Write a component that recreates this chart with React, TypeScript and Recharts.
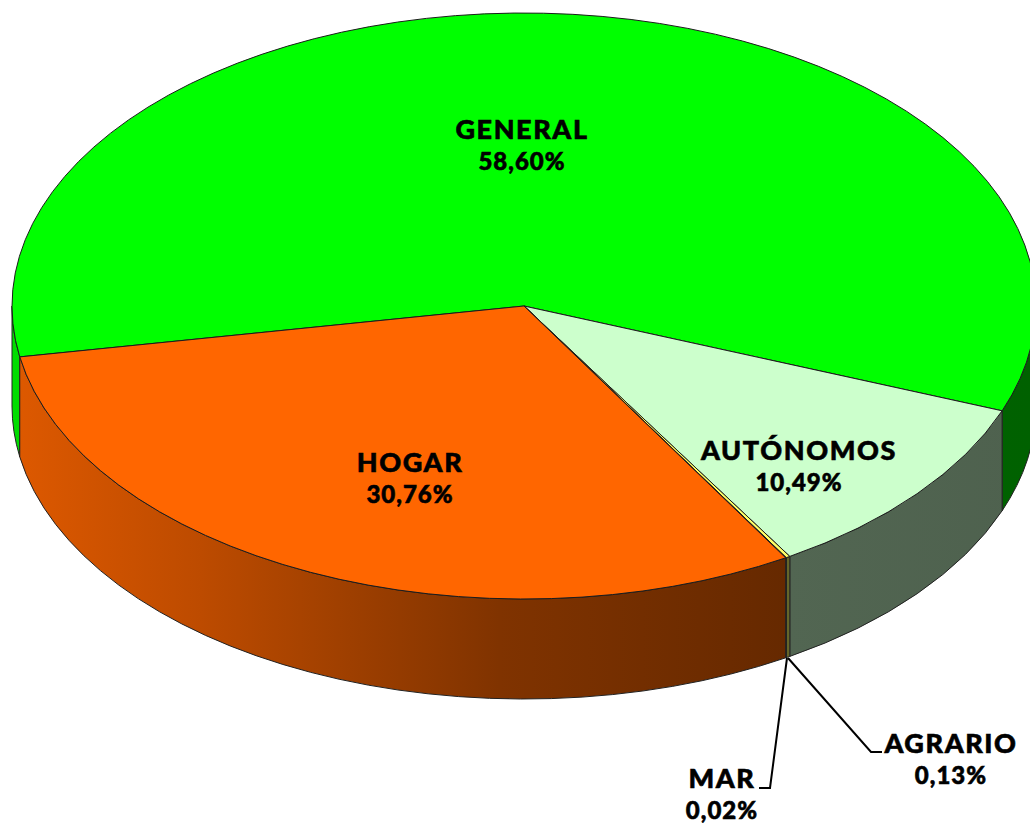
import React from 'react';
import { PieChart, Pie } from 'recharts';

const names = ['GENERAL', 'AUTÓNOMOS', 'AGRARIO', 'MAR', 'HOGAR'];
const shares = [58.6, 10.49, 0.13, 0.02, 30.76];
const colors = ['#00ff00', '#ccffcc', '#ffff66', '#333300', '#ff6600'];

// brightness of the side wall, from left to right
const shadeStops = [
  [0, 0.87],
  [0.185, 0.74],
  [0.283, 0.66],
  [0.479, 0.5],
  [0.761, 0.4],
  [1, 0.38],
];

const data = names.map((name, i) => ({ name, value: shares[i] }));

const CX = 524;
const CY = 306;
const RX = 512;
const RY = 293;
const DEPTH = 100;
const FONT = 'Lato, sans-serif';

const labelSpots = [
  { x: 522, y: 139 },
  { x: 799, y: 460 },
  { x: 951, y: 753 },
  { x: 722, y: 788 },
  { x: 410, y: 472 },
];

const leaders: Record<string, string> = {
  AGRARIO: '788,658 871,752 882,752',
  MAR: '787,658 770,788 759,788',
};

const pt = (deg: number, dy = 0) => {
  const a = (deg * Math.PI) / 180;
  return `${CX + RX * Math.cos(a)} ${CY - RY * Math.sin(a) + dy}`;
};

const shade = (hex: string, k: number) => {
  const n = parseInt(hex.slice(1), 16);
  const ch = (v: number) => Math.round(v * k);
  return `rgb(${ch((n >> 16) & 255)},${ch((n >> 8) & 255)},${ch(n & 255)})`;
};

// top face of a slice, squashed to an ellipse
const TopSlice = (props: any) => {
  const { startAngle, endAngle, index } = props;
  const large = Math.abs(startAngle - endAngle) > 180 ? 1 : 0;
  const d = `M ${CX} ${CY} L ${pt(startAngle)} A ${RX} ${RY} 0 ${large} 1 ${pt(endAngle)} Z`;
  return <path d={d} fill={colors[index]} stroke="#1c1c1c" strokeWidth={1} strokeLinejoin="round" />;
};

// side wall: only the parts of a slice on the front half of the ellipse
const WallSlice = (props: any) => {
  const { startAngle, endAngle, index } = props;
  const hi = Math.max(startAngle, endAngle);
  const lo = Math.min(startAngle, endAngle);
  const parts = [[-180, 0], [180, 360]]
    .map(([a, b]) => [Math.max(a, lo), Math.min(b, hi)])
    .filter(([a, b]) => b > a);
  return (
    <g>
      {parts.map(([a, b], i) => (
        <path
          key={i}
          d={`M ${pt(b)} A ${RX} ${RY} 0 0 1 ${pt(a)} L ${pt(a, DEPTH)} A ${RX} ${RY} 0 0 0 ${pt(b, DEPTH)} Z`}
          fill={`url(#wall${index})`}
          stroke="#222"
          strokeWidth={1}
        />
      ))}
    </g>
  );
};

const textStyle = { fontFamily: FONT, fontWeight: 900, fill: '#000', stroke: '#000', strokeWidth: 0.6 };

const SliceLabel = (props: any) => {
  const { index, name, value } = props;
  const spot = labelSpots[index];
  const text = `${value.toFixed(2).replace('.', ',')}%`;
  return (
    <g>
      {leaders[name] && <polyline points={leaders[name]} fill="none" stroke="#000" strokeWidth={2} />}
      <text x={spot.x} y={spot.y} textAnchor="middle" fontSize={27} letterSpacing={1.6} style={textStyle}>
        {name}
      </text>
      <text x={spot.x} y={spot.y + 31} textAnchor="middle" fontSize={24} letterSpacing={1} style={textStyle}>
        {text}
      </text>
    </g>
  );
};

export default function App() {
  return (
    <div style={{ position: 'absolute', left: 0, top: 0, width: 1030, height: 823, overflow: 'hidden', background: '#fff' }}>
      <PieChart width={1030} height={823} margin={{ top: 0, right: 0, bottom: 0, left: 0 }}>
        <defs>
          {colors.map((c, i) => (
            <linearGradient key={i} id={`wall${i}`} gradientUnits="userSpaceOnUse" x1={12} y1={0} x2={1030} y2={0}>
              {shadeStops.map(([o, k]) => (
                <stop key={o} offset={o} stopColor={shade(c, k)} />
              ))}
            </linearGradient>
          ))}
        </defs>
        <Pie
          data={data}
          dataKey="value"
          nameKey="name"
          cx={CX}
          cy={CY}
          outerRadius={RX}
          startAngle={190}
          endAngle={-170}
          paddingAngle={0}
          shape={WallSlice}
          isAnimationActive={false}
        />
        <Pie
          data={data}
          dataKey="value"
          nameKey="name"
          cx={CX}
          cy={CY}
          outerRadius={RX}
          startAngle={190}
          endAngle={-170}
          paddingAngle={0}
          shape={TopSlice}
          label={SliceLabel}
          labelLine={false}
          isAnimationActive={false}
        />
      </PieChart>
    </div>
  );
}
